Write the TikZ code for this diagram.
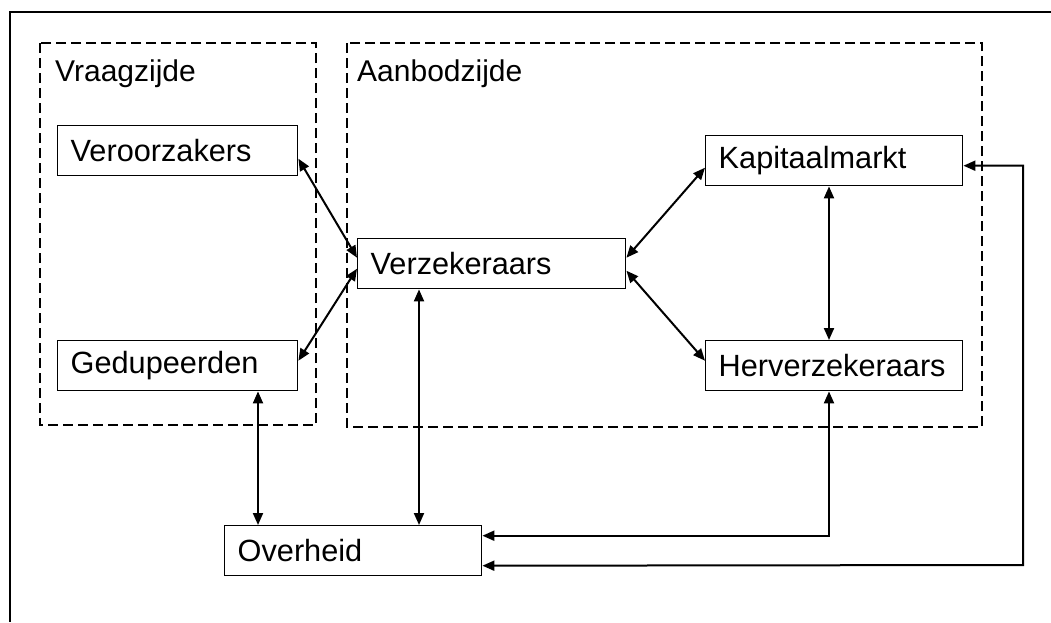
\documentclass[tikz,border=0pt]{standalone}
\usepackage{fontspec}
\setmainfont{Liberation Sans}
\usetikzlibrary{arrows.meta}
\begin{document}
\begin{tikzpicture}[x=1pt,y=-1pt,
  box/.style={draw, line width=1.4pt, anchor=north west, inner xsep=13pt, inner ysep=0pt,
    minimum height=50pt, align=left, font=\fontsize{30.7}{34}\selectfont},
  grp/.style={draw, dashed, dash pattern=on 10pt off 5pt, line width=1.8pt},
  lbl/.style={anchor=base west, inner sep=0pt, font=\fontsize{30}{34}\selectfont},
  link/.style={line width=2pt, {Triangle[length=12pt,width=10pt]}-{Triangle[length=12pt,width=10pt]}}]
\useasboundingbox (0,0) rectangle (1051,622);
\draw[line width=2pt] (1051,12) -- (10,12) -- (10,622);
\draw[grp] (40,43) rectangle (316,425);
\draw[grp] (347,43) rectangle (982,427);
\node[lbl] (lv) at (55,81) {Vraagzijde};
\node[lbl] (la) at (357,81) {Aanbodzijde};
\node[box, text width=214pt] (ver) at (57,125) {Veroorzakers};
\node[box, text width=214pt] (ged) at (57,340) {Gedupeerden};
\node[box, text width=242pt] (verz) at (357,238) {Verzekeraars};
\node[box, text width=231pt] (kap) at (705,135) {Kapitaalmarkt};
\node[box, text width=231pt] (her) at (705,340) {Herverzekeraars};
\node[box, text width=231pt] (ove) at (224,525) {Overheid};
\draw[link] ([yshift=-8pt]ver.east) -- ([yshift=6pt]verz.west);
\draw[link] ([yshift=5pt]ged.east) -- ([yshift=-5pt]verz.west);
\draw[link] ([yshift=6pt]verz.east) -- ([yshift=-7pt]kap.west);
\draw[link] ([yshift=-7pt]verz.east) -- ([yshift=5pt]her.west);
\draw[link] ([xshift=124pt]kap.south west) -- ([xshift=124pt]her.north west);
\draw[link] ([xshift=62pt]verz.south west) -- ([xshift=195pt]ove.north west);
\draw[link] ([xshift=201pt]ged.south west) -- ([xshift=34pt]ove.north west);
\draw[link] ([xshift=124pt]her.south west) |- ([yshift=15pt]ove.east);
\coordinate (kr) at (1023,565);
\draw[link] ([yshift=-5pt]kap.east) -| (kr) -- ([yshift=-15pt]ove.east);
\end{tikzpicture}
\end{document}
